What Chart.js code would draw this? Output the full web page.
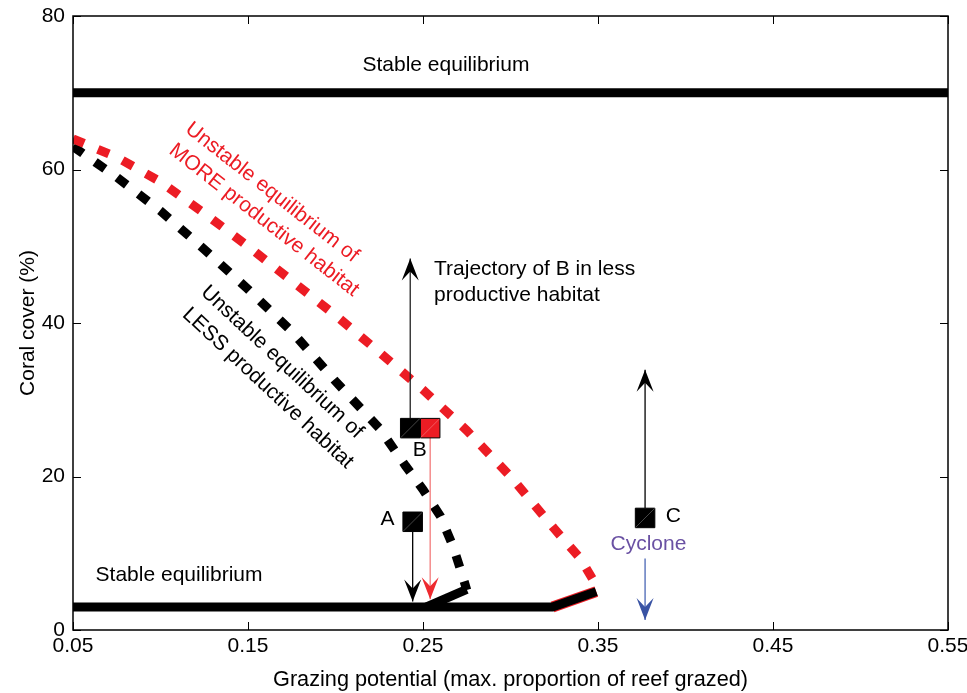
<!DOCTYPE html>
<html>
<head>
<meta charset="utf-8">
<script src="https://cdn.jsdelivr.net/npm/chart.js@4.4.1/dist/chart.umd.min.js"></script>
<style>
  html, body { margin: 0; padding: 0; background: #fff; }
</style>
</head>
<body>
<canvas id="chart" width="967" height="693"></canvas>
<script>
const xTicks = [0.05, 0.15, 0.25, 0.35, 0.45, 0.55];
const yTicks = [0, 20, 40, 60, 80];

// unstable equilibria (dashed curves)
const lessUnstableX = [0.05, 0.075, 0.10, 0.125, 0.15, 0.175, 0.20, 0.225, 0.24, 0.25, 0.26, 0.267, 0.272, 0.275];
const lessUnstableY = [63, 59, 54.6, 49.6, 44.4, 38.9, 32.4, 26.3, 21.4, 18.3, 14.8, 11, 7.5, 5.2];
const moreUnstableX = [0.05, 0.075, 0.10, 0.125, 0.15, 0.175, 0.20, 0.225, 0.25, 0.275, 0.30, 0.325, 0.34, 0.347, 0.35];
const moreUnstableY = [64, 61.6, 58.4, 54.3, 50, 45.5, 41, 36.2, 31.3, 26, 20, 13.2, 9.3, 6.6, 5];

// stable equilibria (solid)
const highStableX = [0.05, 0.55];
const highStableY = [70, 70];
const lowStableX = [0.05, 0.324, 0.349];
const lowStableY = [3, 3, 5];
const lowStableLessX = [0.252, 0.275];
const lowStableLessY = [3, 5.3];

// reef states A, B (less), B (more), C
const stateX = [0.2441, 0.2427, 0.2541, 0.3769];
const stateY = [14.1, 26.3, 26.3, 14.6];

// trajectories: B up, A down, B red down, C up, cyclone
const trajX = [0.2427, 0.2441, 0.2541, 0.3769, 0.3769];
const trajFrom = [27.6, 12.8, 25.1, 15.9, 9.3];
const trajTo = [48.4, 3.7, 4.0, 33.9, 1.3];

const RED = '#ec1c24';
const FONT = "'Liberation Sans', Arial, Helvetica, sans-serif";

const pts = (xs, ys) => xs.map((x, i) => ({ x: x, y: ys[i] }));

const trajStyle = [
    { line: '#222', head: '#000' },
    { line: '#000', head: '#000' },
    { line: '#f37b7b', head: '#ee2a2f' },
    { line: '#000', head: '#000' },
    { line: '#4a66b5', head: '#3953a4' },
];

const notes = [
    { text: 'Stable equilibrium', x: 0.2631, y: 73.6 },
    { text: 'Stable equilibrium', x: 0.1106, y: 7.2 },
    { text: 'Trajectory of B in less', x: 0.2563, y: 47.0, align: 'left' },
    { text: 'productive habitat', x: 0.2563, y: 43.6, align: 'left' },
    { text: 'A', x: 0.2297, y: 14.5 },
    { text: 'B', x: 0.2481, y: 23.4 },
    { text: 'C', x: 0.393, y: 14.8 },
    { text: 'Cyclone', x: 0.3788, y: 11.2, color: '#6a51a3' },
    { text: 'Unstable equilibrium of', x: 0.1637, y: 57.0, rot: 38, color: RED },
    { text: 'MORE productive habitat', x: 0.1591, y: 53.4, rot: 38, color: RED },
    { text: 'Unstable equilibrium of', x: 0.1694, y: 34.9, rot: 43 },
    { text: 'LESS productive habitat', x: 0.1614, y: 31.5, rot: 43 },
];

const arrowDatasets = trajX.map((x, i) => ({
    data: [{ x: x, y: trajFrom[i] }, { x: x, y: trajTo[i] }],
    showLine: true,
    borderColor: trajStyle[i].line,
    borderWidth: 1.3,
    pointRadius: 0,
    arrowHead: trajStyle[i].head,
}));

const extras = {
    id: 'extras',
    afterDatasetsDraw(chart) {
        const ctx = chart.ctx;
        const sx = chart.scales.x, sy = chart.scales.y;

        chart.data.datasets.forEach((ds, i) => {
            const meta = chart.getDatasetMeta(i);
            if (ds.arrowHead) {
                const a = meta.data[0], b = meta.data[meta.data.length - 1];
                const ang = Math.atan2(b.y - a.y, b.x - a.x);
                ctx.save();
                ctx.translate(b.x, b.y);
                ctx.rotate(ang);
                ctx.beginPath();
                ctx.moveTo(0, 0);
                ctx.lineTo(-22, -8.5);
                ctx.lineTo(-13, 0);
                ctx.lineTo(-22, 8.5);
                ctx.closePath();
                ctx.fillStyle = ds.arrowHead;
                ctx.fill();
                ctx.restore();
            }
            if (ds.isState) {
                // thin diagonal across each square
                meta.data.forEach(p => {
                    const h = 9.5;
                    ctx.save();
                    ctx.strokeStyle = 'rgba(255,255,255,0.35)';
                    ctx.lineWidth = 0.8;
                    ctx.beginPath();
                    ctx.moveTo(p.x - h, p.y + h);
                    ctx.lineTo(p.x + h, p.y - h);
                    ctx.stroke();
                    ctx.restore();
                });
            }
        });

        ctx.save();
        ctx.font = '21px ' + FONT;
        ctx.textBaseline = 'middle';
        notes.forEach(n => {
            ctx.save();
            ctx.translate(sx.getPixelForValue(n.x), sy.getPixelForValue(n.y));
            if (n.rot) ctx.rotate(n.rot * Math.PI / 180);
            ctx.textAlign = n.align || 'center';
            ctx.fillStyle = n.color || '#000';
            ctx.fillText(n.text, 0, 0);
            ctx.restore();
        });
        ctx.restore();
    },
    afterDraw(chart) {
        const ctx = chart.ctx;
        const { left, right, top, bottom } = chart.chartArea;
        const sx = chart.scales.x, sy = chart.scales.y;
        const t = 8;
        ctx.save();
        ctx.strokeStyle = '#000';
        ctx.lineWidth = 1.5;
        ctx.strokeRect(left, top, right - left, bottom - top);
        ctx.lineWidth = 1;
        ctx.beginPath();
        xTicks.forEach(v => {
            const px = Math.round(sx.getPixelForValue(v)) + 0.5;
            ctx.moveTo(px, bottom); ctx.lineTo(px, bottom - t);
            ctx.moveTo(px, top); ctx.lineTo(px, top + t);
        });
        yTicks.forEach(v => {
            const py = Math.round(sy.getPixelForValue(v)) + 0.5;
            ctx.moveTo(left, py); ctx.lineTo(left + t, py);
            ctx.moveTo(right, py); ctx.lineTo(right - t, py);
        });
        ctx.stroke();
        ctx.restore();
    }
};

Chart.defaults.font.family = FONT;
Chart.defaults.color = '#000';

new Chart(document.getElementById('chart').getContext('2d'), {
    type: 'scatter',
    data: {
        datasets: [
            {
                data: pts(stateX, stateY),
                isState: true,
                pointStyle: 'rect',
                pointRadius: 13.8,
                pointHoverRadius: 13.8,
                backgroundColor: ['#000', '#000', RED, '#000'],
                borderColor: '#000',
                borderWidth: 1,
            },
            ...arrowDatasets,
            {
                data: pts(lowStableLessX, lowStableLessY),
                showLine: true, borderColor: '#000', borderWidth: 9, pointRadius: 0,
            },
            {
                data: pts(lowStableX, lowStableY),
                showLine: true, borderColor: '#000', borderWidth: 9, pointRadius: 0,
            },
            {
                data: pts(lowStableX.slice(1), lowStableY.slice(1)),
                showLine: true, borderColor: RED, borderWidth: 11, pointRadius: 0,
            },
            {
                data: pts(highStableX, highStableY),
                showLine: true, borderColor: '#000', borderWidth: 9, pointRadius: 0,
            },
            {
                data: pts(moreUnstableX, moreUnstableY),
                showLine: true, borderColor: RED, borderWidth: 9, borderDash: [12, 15], pointRadius: 0,
            },
            {
                data: pts(lessUnstableX, lessUnstableY),
                showLine: true, borderColor: '#000', borderWidth: 9, borderDash: [12, 15], pointRadius: 0,
            },
        ]
    },
    options: {
        responsive: false,
        animation: false,
        events: [],
        layout: { padding: { top: 16, right: 19, left: 0, bottom: 0 } },
        plugins: { legend: { display: false }, tooltip: { enabled: false } },
        scales: {
            x: {
                type: 'linear',
                min: 0.05,
                max: 0.55,
                afterBuildTicks: s => { s.ticks = xTicks.map(v => ({ value: v })); },
                afterFit: s => { s.height = 63; s.paddingLeft = 0; s.paddingRight = 0; },
                grid: { display: false, drawTicks: false },
                border: { display: false },
                ticks: {
                    padding: 4, autoSkip: false, maxRotation: 0,
                    font: { size: 21 },
                    callback: v => v.toFixed(2),
                },
                title: {
                    display: true,
                    text: 'Grazing potential (max. proportion of reef grazed)',
                    font: { size: 21.7 },
                    padding: { top: 0, bottom: 0 },
                },
            },
            y: {
                type: 'linear',
                min: 0,
                max: 80,
                afterBuildTicks: s => { s.ticks = yTicks.map(v => ({ value: v })); },
                afterFit: s => { s.width = 73; s.paddingTop = 0; s.paddingBottom = 0; },
                grid: { display: false, drawTicks: false },
                border: { display: false },
                ticks: { padding: 8, font: { size: 21 } },
                title: {
                    display: true,
                    text: 'Coral cover (%)',
                    font: { size: 21 },
                    padding: { top: 16, bottom: 0 },
                },
            },
        },
    },
    plugins: [extras],
});
</script>
</body>
</html>
